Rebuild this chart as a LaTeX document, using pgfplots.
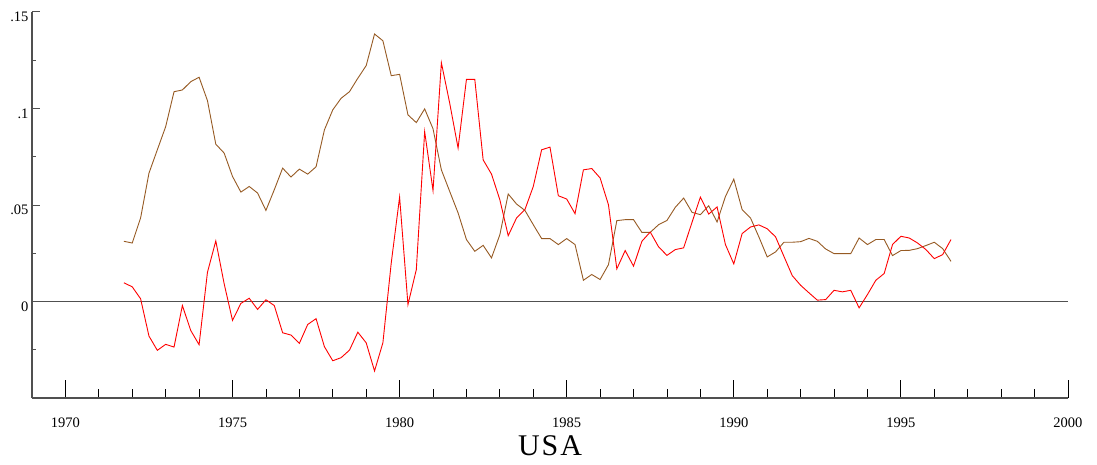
\documentclass[border=0pt]{standalone}
\usepackage{fontspec}
\setmainfont{Liberation Serif}
\usepackage{pgfplots}
\usepackage{pgfplotstable}
\pgfplotsset{compat=1.18}
\definecolor{axgray}{RGB}{80,80,80}
\definecolor{brn}{RGB}{150,90,35}

\pgfplotstableread{
t r b
1971.75 0.0097 0.0312
1972.00 0.0076 0.0303
1972.25 0.0014 0.0433
1972.50 -0.0179 0.0665
1972.75 -0.0253 0.0786
1973.00 -0.0222 0.0906
1973.25 -0.0236 0.1087
1973.50 -0.0021 0.1096
1973.75 -0.0150 0.1139
1974.00 -0.0224 0.1162
1974.25 0.0151 0.1041
1974.50 0.0314 0.0815
1974.75 0.0092 0.0769
1975.00 -0.0098 0.0648
1975.25 -0.0010 0.0567
1975.50 0.0017 0.0596
1975.75 -0.0041 0.0562
1976.00 0.0009 0.0472
1976.25 -0.0021 0.0579
1976.50 -0.0162 0.0691
1976.75 -0.0174 0.0645
1977.00 -0.0217 0.0686
1977.25 -0.0119 0.0660
1977.50 -0.0089 0.0698
1977.75 -0.0234 0.0889
1978.00 -0.0307 0.0993
1978.25 -0.0291 0.1053
1978.50 -0.0252 0.1087
1978.75 -0.0159 0.1157
1979.00 -0.0214 0.1222
1979.25 -0.0360 0.1386
1979.50 -0.0214 0.1351
1979.75 0.0200 0.1170
1980.00 0.0541 0.1177
1980.25 -0.0016 0.0967
1980.50 0.0165 0.0927
1980.75 0.0880 0.0998
1981.00 0.0575 0.0895
1981.25 0.1237 0.0682
1981.50 0.1027 0.0570
1981.75 0.0795 0.0459
1982.00 0.1151 0.0321
1982.25 0.1151 0.0260
1982.50 0.0734 0.0291
1982.75 0.0660 0.0226
1983.00 0.0527 0.0346
1983.25 0.0341 0.0557
1983.50 0.0433 0.0505
1983.75 0.0476 0.0472
1984.00 0.0596 0.0398
1984.25 0.0786 0.0326
1984.50 0.0800 0.0326
1984.75 0.0548 0.0295
1985.00 0.0531 0.0326
1985.25 0.0455 0.0295
1985.50 0.0682 0.0110
1985.75 0.0689 0.0140
1986.00 0.0640 0.0114
1986.25 0.0501 0.0191
1986.50 0.0169 0.0419
1986.75 0.0264 0.0424
1987.00 0.0183 0.0424
1987.25 0.0312 0.0358
1987.50 0.0360 0.0358
1987.75 0.0283 0.0398
1988.00 0.0239 0.0420
1988.25 0.0269 0.0488
1988.50 0.0278 0.0536
1988.75 0.0410 0.0462
1989.00 0.0541 0.0450
1989.25 0.0453 0.0496
1989.50 0.0490 0.0412
1989.75 0.0295 0.0544
1990.00 0.0195 0.0634
1990.25 0.0352 0.0476
1990.50 0.0386 0.0433
1990.75 0.0397 0.0335
1991.00 0.0377 0.0231
1991.25 0.0335 0.0257
1991.50 0.0234 0.0307
1991.75 0.0134 0.0307
1992.00 0.0084 0.0310
1992.25 0.0045 0.0327
1992.50 0.0007 0.0312
1992.75 0.0010 0.0272
1993.00 0.0058 0.0248
1993.25 0.0050 0.0248
1993.50 0.0058 0.0248
1993.75 -0.0033 0.0329
1994.00 0.0036 0.0295
1994.25 0.0110 0.0321
1994.50 0.0145 0.0321
1994.75 0.0295 0.0238
1995.00 0.0338 0.0264
1995.25 0.0329 0.0265
1995.50 0.0303 0.0274
1995.75 0.0269 0.0290
1996.00 0.0222 0.0307
1996.25 0.0243 0.0274
1996.50 0.0321 0.0208
}\datatab

\begin{document}
\begin{tikzpicture}[x=1pt,y=1pt]
\useasboundingbox (0,0) rectangle (1097,464);
\begin{axis}[
  at={(32pt,66pt)}, anchor=south west,
  scale only axis, width=1036pt, height=386pt,
  xmin=1969, xmax=2000, ymin=-0.05, ymax=0.15,
  axis x line*=bottom, axis y line=none,
  axis line style={axgray, line width=1.3pt},
  xtick={1970,1975,1980,1985,1990,1995,2000},
  xticklabels={1970,1975,1980,1985,1990,1995,2000},
  minor x tick num=4,
  tick align=inside,
  major tick length=18pt, minor tick length=9pt,
  every tick/.style={black, line width=0.8pt},
  xticklabel style={font=\fontsize{14.5}{14.5}\selectfont, yshift=-16pt},
  ytick=\empty,
]
\addplot[axgray, line width=1.3pt] coordinates {(1969,0) (2000,0)};
\addplot[brn, line width=0.9pt] table[x=t, y=b] {\datatab};
\addplot[red, line width=0.9pt] table[x=t, y=r] {\datatab};
\end{axis}
\begin{axis}[
  at={(32pt,66pt)}, anchor=south west,
  scale only axis, width=1036pt, height=386pt,
  xmin=1969, xmax=2000, ymin=-0.05, ymax=0.15,
  axis x line=none, axis y line*=left,
  axis line style={axgray, line width=1.3pt},
  xtick=\empty,
  ytick={0,0.05,0.1,0.15},
  yticklabels={0,.05,.1,.15},
  minor ytick={-0.025,0.025,0.075,0.125},
  scaled y ticks=false,
  tick align=inside,
  major tick length=8pt, minor tick length=4pt,
  every tick/.style={axgray, line width=1pt},
  yticklabel style={font=\fontsize{14.5}{14.5}\selectfont, yshift=-5pt},
]
\addplot[draw=none] coordinates {(1970,0)};
\end{axis}
\node[anchor=base, font=\fontsize{30}{30}\selectfont] at (550,9) {U\kern2pt S\kern2pt A};
\end{tikzpicture}
\end{document}
